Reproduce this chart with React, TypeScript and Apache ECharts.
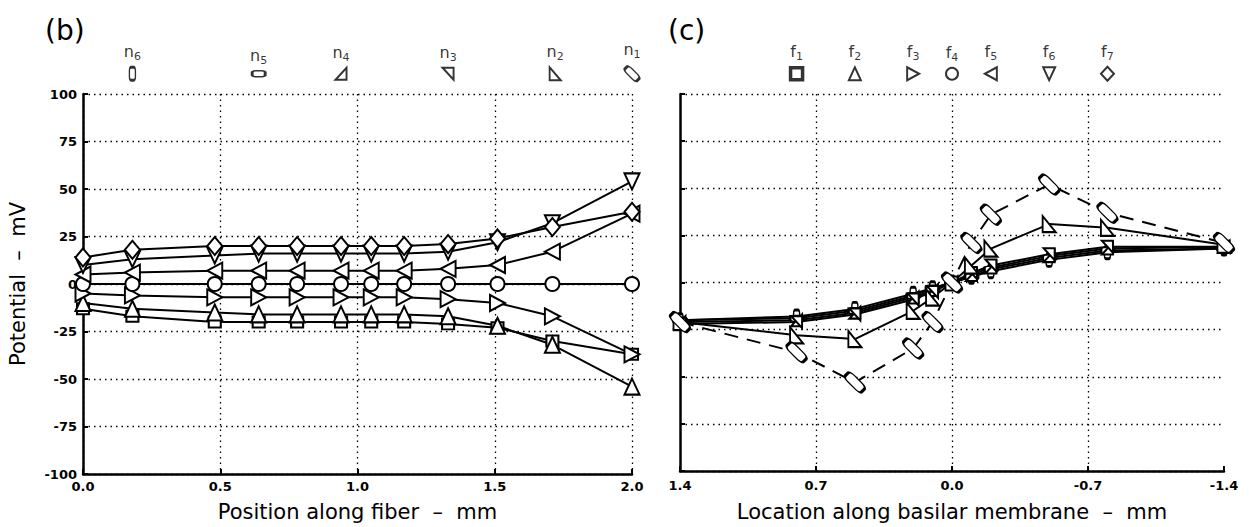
import React, { useEffect, useRef } from "react";
import * as echarts from "echarts";

// ---------- data: panel (b) potential vs position along fiber ----------
const fiberPositions = [0, 0.18, 0.48, 0.64, 0.78, 0.94, 1.05, 1.17, 1.33, 1.51, 1.71, 2.0];
const fiberF1 = [-13, -17, -20, -20, -20, -20, -20, -20, -21, -23, -30, -37];
const fiberF2 = [-10, -13, -15, -16, -16, -16, -16, -16, -17, -22, -32, -54];
const fiberF3 = [-5, -6, -7, -7, -7, -7, -7, -7, -8, -10, -17, -37];
const fiberF4 = [0, 0, 0, 0, 0, 0, 0, 0, 0, 0, 0, 0];
const fiberF5 = [5, 6, 7, 7, 7, 7, 7, 7, 8, 10, 17, 37];
const fiberF6 = [10, 13, 15, 16, 16, 16, 16, 16, 17, 22, 32, 54];
const fiberF7 = [14, 18, 20, 20, 20, 20, 20, 20, 21, 24, 30, 38];

// ---------- data: panel (c) potential vs location along basilar membrane ----------
const bmLocations = [1.4, 0.8, 0.5, 0.2, 0.1, 0.0, -0.1, -0.2, -0.5, -0.8, -1.4];
const bmN1 = [-21, -37, -53, -35, -21, 0, 21, 36, 52, 37, 21];
const bmN2 = [-21, -28, -30, -15, -8, 0, 9, 18, 31, 29, 20];
const bmN3 = [-22, -21, -17, -9, -5, 0, 5, 9, 15, 19, 19];
const bmN4 = [-21, -20, -16, -8, -4, 0, 4, 8, 14, 18, 19];
const bmN5 = [-20, -19, -15, -7, -3, 0, 3, 7, 13, 17, 18];
const bmN6 = [-20, -18, -14, -6, -3, 0, 3, 6, 12, 16, 18];

// ---------- key rows above the panels ----------
const nodeLetter = "n";
const nodeIndices = ["1", "2", "3", "4", "5", "6"];
const nodePositions = [2.0, 1.72, 1.33, 0.94, 0.64, 0.18];
const freqLetter = "f";
const freqIndices = ["1", "2", "3", "4", "5", "6", "7"];
const freqLocations = [0.8, 0.5, 0.2, 0.0, -0.2, -0.5, -0.8];

// ---------- axis settings ----------
const potentialRange = [-100, 100];
const potentialStep = 25;
const fiberRange = [0, 2.0];
const fiberStep = 0.5;
const bmRange = [-1.4, 1.4];
const bmStep = 0.7;

const FONT = "DejaVu Sans";

const SYM = {
  square: "rect",
  up: "triangle",
  right: "path://M0,0L10,5L0,10Z",
  circle: "circle",
  left: "path://M10,0L0,5L10,10Z",
  down: "path://M0,0L10,0L5,10Z",
  diamond: "diamond",
  n2: "path://M0,0L0,10L10,10Z",
  n3: "path://M0,0L10,0L10,10Z",
  n4: "path://M10,0L10,10L0,10Z",
  rr: "roundRect",
};

const freqSymbols = [
  { s: SYM.square, size: [12, 11], bw: 2 },
  { s: SYM.up, size: [15, 16], bw: 2 },
  { s: SYM.right, size: [15, 16], bw: 2 },
  { s: SYM.circle, size: 14, bw: 2 },
  { s: SYM.left, size: [15, 16], bw: 2 },
  { s: SYM.down, size: [15, 16], bw: 2 },
  { s: SYM.diamond, size: [15, 18], bw: 2 },
];

const nodeSymbols = [
  { s: SYM.rr, size: [23, 9], rot: -45, bw: 2 },
  { s: SYM.n2, size: [13, 16], rot: 0, bw: 2 },
  { s: SYM.n3, size: [11, 12], rot: 0, bw: 2 },
  { s: SYM.n4, size: [11, 12], rot: 0, bw: 2 },
  { s: SYM.rr, size: [13, 6], rot: 0, bw: 2 },
  { s: SYM.rr, size: [6, 13], rot: 0, bw: 2 },
];

function fmt1(v: number) {
  if (Math.abs(v) < 1e-9) return "0.0";
  return v.toFixed(1);
}

function mkLine(xs: number[], ys: number[], sym: any, xIdx: number, yIdx: number, dashed = false) {
  return {
    type: "line",
    xAxisIndex: xIdx,
    yAxisIndex: yIdx,
    data: xs.map((x, i) => [x, ys[i]]),
    symbol: sym.s,
    symbolSize: sym.size,
    symbolRotate: sym.rot || 0,
    showAllSymbol: true,
    clip: false,
    silent: true,
    lineStyle: { color: "#000", width: 2, type: dashed ? [14, 9] : "solid" },
    itemStyle: { color: "#fff", borderColor: "#000", borderWidth: sym.bw },
    emphasis: { disabled: true },
  };
}

const keyRich = {
  a: { color: "#000", fontFamily: FONT, fontSize: 16, padding: [0, 0, 0, 0] },
  b: { color: "#000", fontFamily: FONT, fontSize: 11, padding: [10, 0, 0, 0] },
};

export default function App() {
  const ref = useRef<HTMLDivElement>(null);
  useEffect(() => {
    document.body.style.margin = "0";
    if (!ref.current) return;
    const chart = echarts.init(ref.current, undefined, { renderer: "svg" });

    const dotted = { color: "#000", width: 1.3, type: [1.5, 4] as any };
    const axisLineStyle = { onZero: false, lineStyle: { color: "#000", width: 2.5 } };
    const tickLabel = { color: "#000", fontFamily: FONT, fontSize: 13, fontWeight: "bold" as any };
    const nameStyle = { color: "#000", fontFamily: FONT, fontSize: 21 };

    const fiberSeries = [fiberF1, fiberF2, fiberF3, fiberF4, fiberF5, fiberF6, fiberF7].map((ys, i) =>
      mkLine(fiberPositions, ys, freqSymbols[i], 0, 0)
    );
    const bmSeries = [bmN6, bmN5, bmN4, bmN3, bmN2, bmN1].map((ys, j) => {
      const i = 5 - j;
      return mkLine(bmLocations, ys, nodeSymbols[i], 1, 1, i === 0);
    });

    const nodeKeySizes: any[] = [[17, 7], [11, 13], [11, 12], [11, 12], [13, 6], [6, 13]];
    const nodeKey = {
      type: "scatter",
      xAxisIndex: 2,
      yAxisIndex: 2,
      silent: true,
      data: nodePositions.map((x, i) => ({
        value: [x, 0.25],
        symbol: nodeSymbols[i].s,
        symbolSize: nodeKeySizes[i],
        symbolRotate: nodeSymbols[i].rot,
        label: {
          show: true,
          position: "top",
          distance: 4,
          formatter: `{a|${nodeLetter}}{b|${nodeIndices[i]}}`,
          rich: keyRich,
        },
      })),
      itemStyle: { color: "#fff", borderColor: "#000", borderWidth: 2 },
    };
    const freqKeySizes: any[] = [[12, 12], [12, 13], [12, 13], 12, [12, 13], [12, 13], [13, 14]];
    const freqKey = {
      type: "scatter",
      xAxisIndex: 3,
      yAxisIndex: 3,
      silent: true,
      data: freqLocations.map((x, i) => ({
        value: [x, 0.25],
        symbol: freqSymbols[i].s,
        symbolSize: freqKeySizes[i],
        itemStyle: { borderWidth: i === 0 ? 3.5 : 2 },
        label: {
          show: true,
          position: "top",
          distance: 4,
          formatter: `{a|${freqLetter}}{b|${freqIndices[i]}}`,
          rich: keyRich,
        },
      })),
      itemStyle: { color: "#fff", borderColor: "#000", borderWidth: 2 },
    };

    const potentialAxis = (gridIndex: number, labels: boolean) => ({
      type: "value",
      gridIndex,
      min: potentialRange[0],
      max: potentialRange[1],
      interval: potentialStep,
      name: labels ? "Potential  –  mV" : "",
      nameLocation: "middle",
      nameGap: 55,
      nameRotate: 90,
      nameTextStyle: nameStyle,
      axisLine: { show: true, ...axisLineStyle },
      axisTick: { show: true, inside: true, length: 5, lineStyle: { color: "#000", width: 2 } },
      axisLabel: labels ? { ...tickLabel, margin: 6 } : { show: false },
      splitLine: { show: true, lineStyle: dotted },
    });

    const option: any = {
      animation: false,
      backgroundColor: "#fff",
      grid: [
        { left: 83, top: 94, width: 549, height: 380 },
        { left: 680, top: 94, width: 544, height: 382 },
        { left: 83, top: 40, width: 549, height: 45 },
        { left: 680, top: 40, width: 544, height: 45 },
      ],
      xAxis: [
        {
          type: "value",
          gridIndex: 0,
          min: fiberRange[0],
          max: fiberRange[1],
          interval: fiberStep,
          name: "Position along fiber  –  mm",
          nameLocation: "middle",
          nameGap: 27,
          nameTextStyle: nameStyle,
          axisLine: { show: true, ...axisLineStyle },
          axisTick: { show: true, inside: true, length: 5, lineStyle: { color: "#000", width: 2 } },
          axisLabel: { ...tickLabel, margin: 6, formatter: (v: number) => fmt1(v) },
          splitLine: { show: true, lineStyle: dotted },
        },
        {
          type: "value",
          gridIndex: 1,
          min: bmRange[0],
          max: bmRange[1],
          interval: bmStep,
          inverse: true,
          name: "Location along basilar membrane  –  mm",
          nameLocation: "middle",
          nameGap: 30,
          nameTextStyle: nameStyle,
          axisLine: { show: true, ...axisLineStyle },
          axisTick: { show: true, inside: true, length: 5, lineStyle: { color: "#000", width: 2 } },
          axisLabel: { ...tickLabel, margin: 8, formatter: (v: number) => fmt1(v) },
          splitLine: { show: true, showMinLine: false, showMaxLine: false, lineStyle: dotted },
        },
        { type: "value", gridIndex: 2, min: fiberRange[0], max: fiberRange[1], show: false },
        { type: "value", gridIndex: 3, min: bmRange[0], max: bmRange[1], inverse: true, show: false },
      ],
      yAxis: [
        potentialAxis(0, true),
        potentialAxis(1, false),
        { type: "value", gridIndex: 2, min: 0, max: 1, show: false },
        { type: "value", gridIndex: 3, min: 0, max: 1, show: false },
      ],
      graphic: [
        { type: "text", left: 45, top: 16, style: { text: "(b)", font: `28px "${FONT}"`, fill: "#000" } },
        { type: "text", left: 668, top: 16, style: { text: "(c)", font: `28px "${FONT}"`, fill: "#000" } },
      ],
      series: [...fiberSeries, ...bmSeries, nodeKey, freqKey],
    };
    chart.setOption(option);
    return () => chart.dispose();
  }, []);
  return <div ref={ref} style={{ width: 1249, height: 527 }} />;
}
